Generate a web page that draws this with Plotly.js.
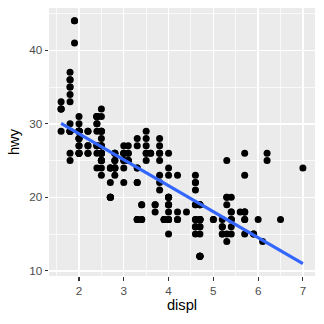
<!DOCTYPE html>
<html>
<head>
<meta charset="utf-8">
<script src="https://cdn.plot.ly/plotly-3.0.1.min.js"></script>
<style>html,body{margin:0;padding:0;background:#fff}#chart{width:324px;height:324px}</style>
</head>
<body>
<div id="chart"></div>
<script>
// mpg: engine displacement (litres) vs highway mpg
const displ = [
1.8,1.8,2.0,2.0,2.8,2.8,3.1,
1.8,1.8,2.0,2.0,2.8,2.8,3.1,3.1,
2.8,3.1,4.2,
5.3,5.3,5.3,5.7,6.0,
5.7,5.7,6.2,6.2,7.0,
5.3,5.3,5.7,6.5,
2.4,2.4,3.1,3.5,3.6,
2.4,3.0,3.3,3.3,3.3,3.3,3.3,3.8,3.8,3.8,4.0,
3.7,3.7,3.9,3.9,4.7,4.7,4.7,5.2,5.2,
3.9,4.7,4.7,4.7,5.2,5.7,5.9,
4.7,4.7,4.7,4.7,4.7,4.7,5.2,5.2,5.7,5.9,
4.6,5.4,5.4,
4.0,4.0,4.0,4.0,4.6,5.0,
4.2,4.2,4.6,4.6,4.6,5.4,5.4,
3.8,3.8,4.0,4.0,4.6,4.6,4.6,4.6,5.4,
1.6,1.6,1.6,1.6,1.6,1.8,1.8,1.8,2.0,
2.4,2.4,2.4,2.4,2.5,2.5,3.3,
2.0,2.0,2.0,2.0,2.7,2.7,2.7,
3.0,3.7,4.0,4.7,4.7,4.7,5.7,6.1,
4.0,4.2,4.4,4.6,
5.4,5.4,5.4,
4.0,4.0,4.6,5.0,
2.4,2.4,2.5,2.5,3.5,3.5,3.5,
3.0,3.0,3.5,
3.3,3.3,4.0,5.6,
3.1,3.8,3.8,3.8,5.3,
2.5,2.5,2.5,2.5,2.5,2.5,
2.2,2.2,2.5,2.5,2.5,2.5,2.5,2.5,
2.7,2.7,3.4,3.4,4.0,4.7,
2.2,2.2,2.4,2.4,3.0,3.0,3.5,
2.2,2.2,2.4,2.4,3.0,3.0,3.3,
1.8,1.8,1.8,1.8,1.8,
4.7,5.7,
2.7,2.7,2.7,3.4,3.4,4.0,4.0,
2.0,2.0,2.0,2.0,2.8,
1.9,2.0,2.0,2.0,2.0,2.5,2.5,2.8,2.8,
1.9,1.9,2.0,2.0,2.5,2.5,
1.8,1.8,2.0,2.0,2.8,2.8,3.6
];
const hwy = [
29,29,31,30,26,26,27,
26,25,28,27,25,25,25,25,
24,25,23,
20,15,20,17,17,
26,23,26,25,24,
19,14,15,17,
27,30,26,29,26,
24,24,22,22,24,24,17,22,21,23,23,
19,18,17,17,19,19,12,17,15,
17,17,12,17,16,18,15,
16,12,17,17,16,12,15,16,17,15,
17,17,18,
17,19,17,19,19,17,
17,17,16,16,17,15,17,
26,25,26,24,21,22,23,22,20,
33,32,32,29,32,34,36,36,29,
26,27,30,31,26,26,28,
26,29,28,27,24,24,24,
22,19,20,17,12,19,18,14,
15,18,18,15,
17,16,18,
17,19,19,17,
29,27,31,32,27,26,26,
25,25,25,
17,17,20,18,
26,26,27,28,25,
25,24,27,25,26,23,
26,26,26,26,25,27,25,27,
20,20,19,17,20,17,
29,27,31,31,26,26,28,
27,29,31,31,26,27,27,
30,33,35,37,35,
15,18,
20,20,22,17,19,18,20,
29,26,29,29,24,
44,29,26,29,29,29,29,23,24,
44,41,29,26,28,29,
29,29,28,29,26,24,26
];
// linear fit line
const fitX = [1.6, 7.0];
const fitY = [30.05, 10.98];

const xTicks = [2,3,4,5,6,7];
const yTicks = [10,20,30,40];

const font = "Liberation Sans, Arial, Helvetica, sans-serif";

const traces = [
  {x: displ, y: hwy, type: 'scatter', mode: 'markers',
   marker: {color: '#000000', size: 7, line: {width: 0}}, hoverinfo: 'x+y', showlegend: false},
  {x: fitX, y: fitY, type: 'scatter', mode: 'lines',
   line: {color: '#3366FF', width: 3.2}, showlegend: false}
];

const axisBase = {
  showline: false, zeroline: false,
  gridcolor: '#FFFFFF', gridwidth: 1.4,
  ticks: 'outside', ticklen: 3.5, tickwidth: 1.1, tickcolor: '#333333',
  tickfont: {family: font, size: 11.7, color: '#4D4D4D'},
  tickmode: 'array'
};

const layout = {
  width: 324, height: 324,
  margin: {l: 49, r: 8.5, t: 7.5, b: 48},
  paper_bgcolor: '#FFFFFF', plot_bgcolor: '#EBEBEB',
  font: {family: font},
  xaxis: Object.assign({}, axisBase, {
    range: [1.33, 7.27], tickvals: xTicks, ticktext: xTicks.map(String),
    minor: {tickmode: 'array', tickvals: [1.5,2.5,3.5,4.5,5.5,6.5], showgrid: true, gridcolor: '#FFFFFF', gridwidth: 0.7, ticks: ''},
    title: {text: 'displ', font: {family: font, size: 14.7, color: '#000000'}, standoff: 4}
  }),
  yaxis: Object.assign({}, axisBase, {
    range: [9.3, 45.75], tickvals: yTicks, ticktext: yTicks.map(String),
    minor: {tickmode: 'array', tickvals: [15,25,35,45], showgrid: true, gridcolor: '#FFFFFF', gridwidth: 0.7, ticks: ''},
    title: {text: 'hwy', font: {family: font, size: 14.7, color: '#000000'}, standoff: 5}
  })
};

Plotly.newPlot('chart', traces, layout, {displayModeBar: false, staticPlot: true});
</script>
</body>
</html>
